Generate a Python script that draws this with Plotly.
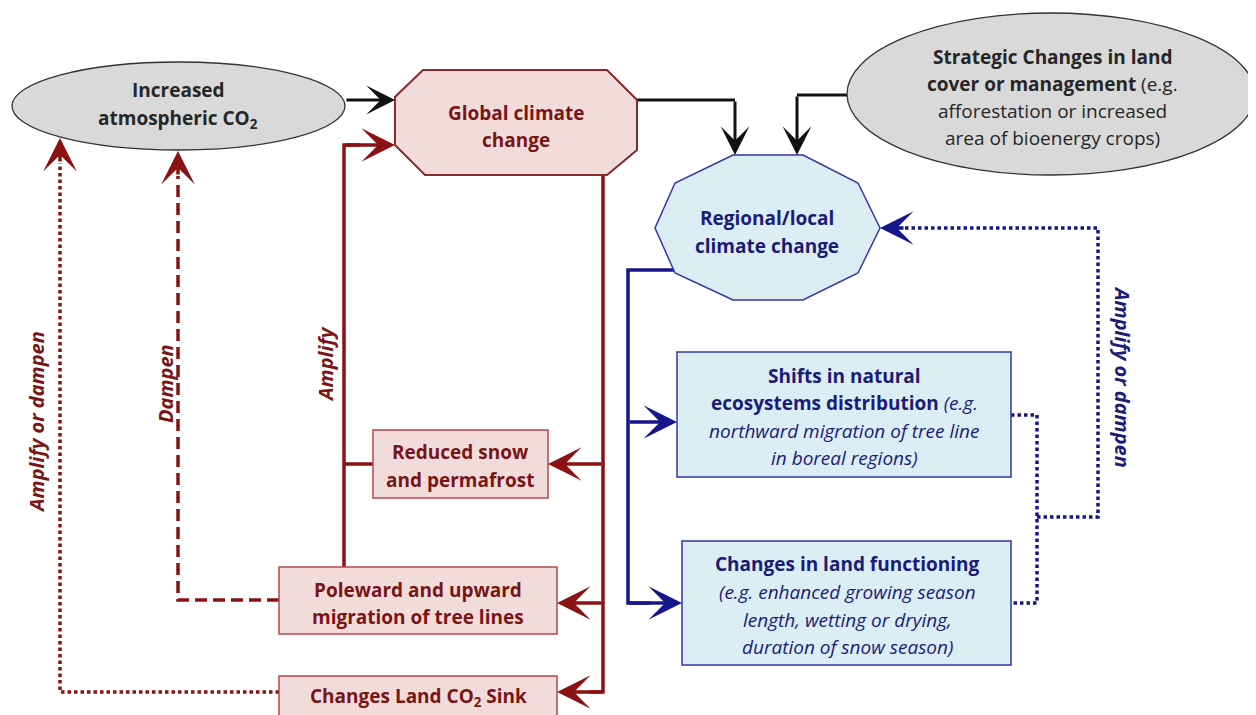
import plotly.graph_objects as go

# ---- diagram content ----
co2_lines = ["<b>Increased</b>", "<b>atmospheric CO<sub>2</sub></b>"]
global_lines = ["<b>Global climate</b>", "<b>change</b>"]
regional_lines = ["<b>Regional/local</b>", "<b>climate change</b>"]
strategic_lines = ["<b>Strategic Changes in land</b>",
                   "<b>cover or management</b> (e.g.",
                   "afforestation or increased",
                   "area of bioenergy crops)"]
snow_lines = ["<b>Reduced snow</b>", "<b>and permafrost</b>"]
poleward_lines = ["<b>Poleward and upward</b>", "<b>migration of tree lines</b>"]
sink_lines = ["<b>Changes Land CO<sub>2</sub> Sink</b>"]
shifts_lines = ["<b>Shifts in natural</b>",
                "<b>ecosystems distribution</b> <i>(e.g.</i>",
                "<i>northward migration of tree line</i>",
                "<i>in boreal regions)</i>"]
functioning_lines = ["<b>Changes in land functioning</b>",
                     "<i>(e.g. enhanced growing season</i>",
                     "<i>length, wetting or drying,</i>",
                     "<i>duration of snow season)</i>"]
feedback_labels = ["<b><i>Amplify or dampen</i></b>", "<b><i>Dampen</i></b>",
                   "<b><i>Amplify</i></b>", "<b><i>Amplify or dampen</i></b>"]

FONT = "Open Sans"
FS = 19
GRAY_TXT = "#262626"
BLACK = "#111111"
RED = "#8a1212"
RED_TXT = "#7a1515"
RED_FILL = "#f2dcdb"
RED_EDGE = "#b54848"
BLUE = "#16168c"
BLUE_TXT = "#1b1b78"
BLUE_FILL = "#dbeef4"
BLUE_EDGE = "#3535a8"

fig = go.Figure()
shapes = []
annots = []


def text_block(lines, xc, ys, color, size=FS):
    for t, y in zip(lines, ys):
        annots.append(dict(x=xc, y=y, text=t, showarrow=False, xanchor="center",
                           yanchor="middle", font=dict(family=FONT, size=size, color=color)))


def poly(pts, fill, edge, w):
    d = "M " + " L ".join(f"{x},{y}" for x, y in pts) + " Z"
    shapes.append(dict(type="path", path=d, fillcolor=fill, line=dict(color=edge, width=w), layer="above"))


def box(x0, y0, x1, y1, fill, edge):
    shapes.append(dict(type="rect", x0=x0, y0=y0, x1=x1, y1=y1, fillcolor=fill,
                       line=dict(color=edge, width=1.5), layer="above"))


def wire(xs, ys, color, w=3.5, dash="solid"):
    fig.add_trace(go.Scatter(x=xs, y=ys, mode="lines", hoverinfo="skip", showlegend=False,
                             line=dict(color=color, width=w, dash=dash)))


def arrow(x, y, ax, ay, color, w=3.5):
    annots.append(dict(x=x, y=y, ax=ax, ay=ay, xref="x", yref="y", axref="x", ayref="y",
                       text="", showarrow=True, arrowhead=3, arrowsize=1.6,
                       arrowwidth=w, arrowcolor=color))


# ---- nodes ----
shapes.append(dict(type="circle", x0=12, x1=345, y0=62, y1=150, fillcolor="#d9d9d9",
                   line=dict(color="#333333", width=1.3), layer="above"))
shapes.append(dict(type="circle", x0=847, x1=1255, y0=13, y1=175, fillcolor="#d9d9d9",
                   line=dict(color="#333333", width=1.3), layer="above"))
poly([(423, 70), (607, 70), (637, 100), (637, 150), (607, 175), (425, 175), (395, 145), (395, 97)],
     RED_FILL, "#8b2a2a", 2)
poly([(733, 155), (803, 155), (858, 183), (880, 228), (858, 273), (803, 300), (733, 300),
      (675, 273), (655, 228), (675, 183)], BLUE_FILL, BLUE_EDGE, 1.5)
box(373, 430, 548, 498, RED_FILL, RED_EDGE)
box(279, 567, 557, 634, RED_FILL, RED_EDGE)
box(279, 676, 557, 718, RED_FILL, RED_EDGE)
box(677, 352, 1011, 477, BLUE_FILL, BLUE_EDGE)
box(682, 541, 1011, 665, BLUE_FILL, BLUE_EDGE)

# ---- black connectors ----
arrow(395, 100, 345, 100, BLACK, 3)
wire([637, 735], [100, 100], BLACK, 3)
arrow(735, 155, 735, 100, BLACK, 3)
wire([849, 797], [95, 95], BLACK, 3)
arrow(797, 155, 797, 95, BLACK, 3)

# ---- red connectors ----
wire([603, 603, 590], [175, 692, 692], RED)
arrow(557, 692, 603, 692, RED)
arrow(548, 464, 603, 464, RED)
arrow(557, 603, 603, 603, RED)
wire([344, 344, 360], [567, 145, 145], RED)
arrow(395, 145, 344, 145, RED)
wire([373, 344], [464, 464], RED)
wire([279, 178, 178], [600, 600, 176], RED, 3.5, "12px,6px")
arrow(178, 151, 178, 176, RED)
wire([279, 60, 60], [692, 692, 163], RED, 3.5, "3.5px,3px")
arrow(60, 138, 60, 163, RED)

# ---- blue connectors ----
wire([675, 628, 628, 650], [270, 270, 603, 603], BLUE)
arrow(682, 603, 628, 603, BLUE)
arrow(677, 422, 628, 422, BLUE)
wire([1011, 1037, 1037, 1011], [415, 415, 603, 603], BLUE, 3.5, "3.5px,3px")
wire([1037, 1098, 1098, 905], [517, 517, 228, 228], BLUE, 3.5, "3.5px,3px")
arrow(880, 228, 905, 228, BLUE)

# ---- text ----
text_block(co2_lines, 178, [90, 119], GRAY_TXT)
text_block(global_lines, 516, [113, 140], RED_TXT)
text_block(regional_lines, 767, [218, 246], BLUE_TXT)
text_block(strategic_lines, 1052, [57, 84, 111, 138], GRAY_TXT)
text_block(snow_lines, 460, [452, 480], RED_TXT)
text_block(poleward_lines, 418, [590, 617], RED_TXT)
text_block(sink_lines, 418, [697], RED_TXT)
text_block(shifts_lines, 844, [376, 403, 431, 458], BLUE_TXT)
text_block(functioning_lines, 847, [564, 592, 620, 647], BLUE_TXT)

for t, x, y, ang, col in zip(feedback_labels, [36, 165, 325, 1123], [422, 384, 364, 377],
                             [-90, -90, -90, 90], [RED_TXT, RED_TXT, RED_TXT, BLUE_TXT]):
    annots.append(dict(x=x, y=y, text=t, showarrow=False, textangle=ang,
                       font=dict(family=FONT, size=20, color=col)))

# the page body adds an 8px offset, so the axes start at 8 to keep pixel = data coordinate
fig.update_layout(
    width=1256, height=715, margin=dict(l=0, r=0, t=0, b=0),
    plot_bgcolor="white", paper_bgcolor="white",
    xaxis=dict(range=[8, 1264], visible=False, fixedrange=True),
    yaxis=dict(range=[723, 8], visible=False, fixedrange=True),
    shapes=shapes, annotations=annots,
)
fig.write_html("out.html")
